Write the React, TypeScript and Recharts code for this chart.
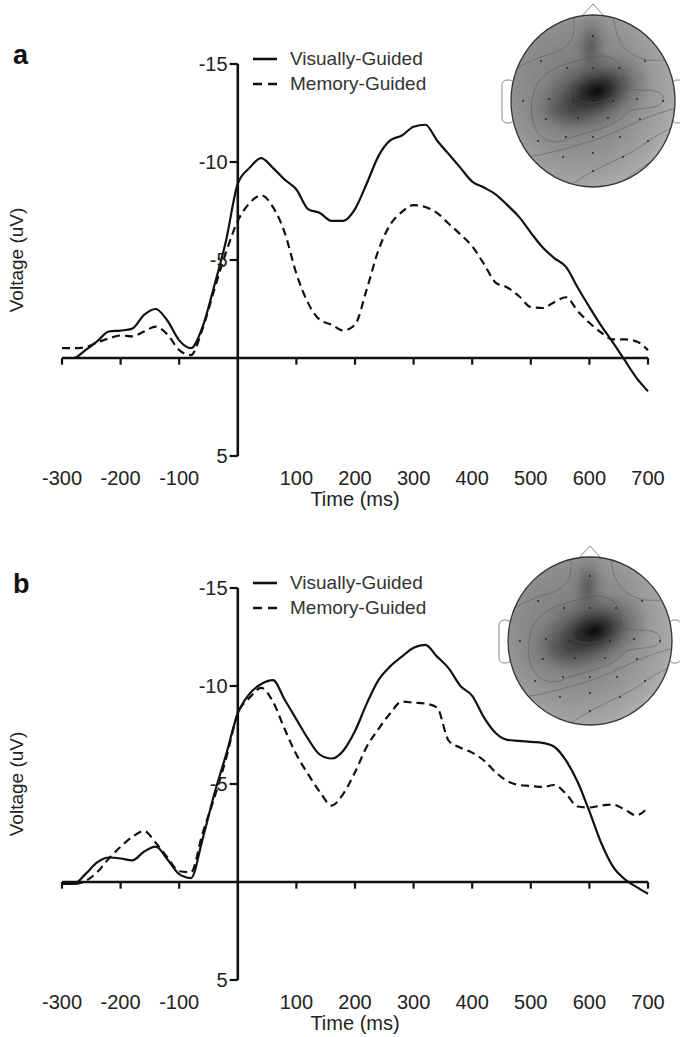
import React from "react";
import {
  LineChart,
  Line,
  XAxis,
  YAxis,
  ReferenceLine,
  Legend,
} from "recharts";

const FONT = '"Liberation Sans", Arial, Helvetica, sans-serif';

// time axis, ms (shared by both panels)
const TIME = [
  -300, -280, -260, -240, -220, -200, -180, -160, -140, -120, -100, -80, -60,
  -40, -20, 0, 20, 40, 60, 80, 100, 120, 140, 160, 180, 200, 220, 240, 260,
  280, 300, 320, 340, 360, 380, 400, 420, 440, 460, 480, 500, 520, 540, 560,
  580, 600, 620, 640, 660, 680, 700,
];

// panel a (uV)
const A_VISUAL = [
  0.0, 0.0, -0.4, -0.85, -1.35, -1.4, -1.5, -2.2, -2.5, -1.9, -0.9, -0.5, -1.6,
  -3.7, -6.0, -8.9, -9.7, -10.2, -9.7, -9.1, -8.6, -7.6, -7.4, -7.0, -7.0,
  -7.6, -8.9, -10.3, -11.1, -11.35, -11.8, -11.9, -11.1, -10.4, -9.7, -9.0,
  -8.7, -8.35, -7.8, -7.2, -6.4, -5.65, -5.1, -4.65, -3.6, -2.6, -1.65, -0.8,
  0.1, 1.0, 1.7,
];
const A_MEMORY = [
  -0.5, -0.5, -0.55, -0.8, -1.0, -1.15, -1.1, -1.35, -1.6, -1.2, -0.4, -0.15,
  -1.5, -3.5, -5.4, -7.0, -7.9, -8.3, -7.7, -6.4, -4.3, -2.8, -1.95, -1.7,
  -1.4, -1.7, -3.5, -5.5, -6.8, -7.45, -7.8, -7.7, -7.4, -6.85, -6.3, -5.7,
  -4.8, -3.85, -3.6, -3.15, -2.6, -2.55, -2.85, -3.1, -2.4, -1.8, -1.3, -0.95,
  -0.95, -0.85, -0.4,
];

// panel b (uV)
const B_VISUAL = [
  0.1, 0.1, -0.4, -1.0, -1.25, -1.2, -1.1, -1.55, -1.8, -1.15, -0.4, -0.2,
  -2.2, -4.5, -6.5, -8.6, -9.6, -10.1, -10.3, -9.3, -8.3, -7.3, -6.5, -6.3,
  -6.7, -7.7, -9.1, -10.3, -11.0, -11.5, -11.95, -12.1, -11.5, -10.9, -10.0,
  -9.5, -8.4, -7.6, -7.25, -7.2, -7.15, -7.1, -6.9, -6.2, -5.1, -3.6, -2.0,
  -0.8, -0.15, 0.25, 0.6,
];
const B_MEMORY = [
  0.0, 0.1, -0.05, -0.5, -1.2, -1.8, -2.3, -2.6, -2.0, -1.25, -0.55, -0.5,
  -2.5, -4.3, -6.3, -8.6, -9.4, -9.9, -9.2, -7.8, -6.5, -5.5, -4.6, -3.9,
  -4.5, -5.6, -6.9, -7.8, -8.6, -9.2, -9.15, -9.1, -8.9, -7.2, -6.85, -6.6,
  -6.2, -5.6, -5.15, -4.95, -4.9, -4.85, -4.95, -4.5, -3.85, -3.8, -3.9,
  -3.95, -3.7, -3.4, -3.8,
];

const X_LABEL_TICKS = [-300, -200, -100, 100, 200, 300, 400, 500, 600, 700];
const X_MARKS = [-300, -200, -100, 100, 200, 300, 400, 500, 600, 700];
const Y_TICKS = [-15, -10, -5, 5];
const LEGEND_ORDER = ["visual", "memory"];

// electrode positions on the head sketch (local units, radius ~83)
const ELECTRODES = [
  [0, -65], [-52, -40], [-26, -33], [0, -33], [26, -33], [52, -40],
  [-70, 0], [-44, -2], [-20, 0], [0, 0], [20, 0], [44, -2], [70, 0],
  [-47, 18], [-15, 17], [15, 17], [47, 18], [-55, 40], [-27, 36], [0, 36],
  [27, 36], [55, 40], [-30, 56], [0, 52], [30, 56], [0, 70],
];

const renderLegend = ({ payload }: any) => {
  const items = LEGEND_ORDER.map((k) =>
    (payload || []).find((p: any) => p.dataKey === k)
  ).filter(Boolean);
  return (
    <div style={{ fontFamily: FONT, fontSize: 19, color: "#333" }}>
      {items.map((entry: any) => (
        <div
          key={entry.value}
          style={{ display: "flex", alignItems: "center", height: 25 }}
        >
          <svg width={26} height={10} style={{ marginRight: 12 }}>
            <line
              x1={1}
              y1={5}
              x2={25}
              y2={5}
              stroke="#111"
              strokeWidth={2.6}
              strokeDasharray={entry.dataKey === "memory" ? "9 6" : undefined}
            />
          </svg>
          <span>{entry.value}</span>
        </div>
      ))}
    </div>
  );
};

function HeadMap({ id, cx, cy, rx, ry }: any) {
  return (
    <g transform={`translate(${cx},${cy})`}>
      <defs>
        <radialGradient id={`${id}-base`} cx="0.4" cy="0.42" r="0.72">
          <stop offset="0" stopColor="#767676" />
          <stop offset="0.5" stopColor="#8e8e8e" />
          <stop offset="0.82" stopColor="#a8a8a8" />
          <stop offset="1" stopColor="#cdcdcd" />
        </radialGradient>
        <radialGradient id={`${id}-blob`}>
          <stop offset="0" stopColor="#000" stopOpacity={0.92} />
          <stop offset="0.3" stopColor="#111" stopOpacity={0.65} />
          <stop offset="0.65" stopColor="#333" stopOpacity={0.25} />
          <stop offset="1" stopColor="#444" stopOpacity={0} />
        </radialGradient>
        <clipPath id={`${id}-clip`}>
          <ellipse cx={0} cy={0} rx={rx} ry={ry} />
        </clipPath>
      </defs>
      <path
        d={`M -13 ${-ry + 3} L 0 ${-ry - 11} L 13 ${-ry + 3}`}
        fill="#fff"
        stroke="#888"
        strokeWidth={1}
      />
      <rect x={-rx - 9} y={-21} width={12} height={43} rx={5} fill="#fff" stroke="#888" />
      <rect x={rx - 3} y={-21} width={12} height={43} rx={5} fill="#fff" stroke="#888" />
      <ellipse cx={0} cy={0} rx={rx} ry={ry} fill={`url(#${id}-base)`} />
      <g clipPath={`url(#${id}-clip)`}>
        <ellipse cx={-2} cy={-55} rx={20} ry={40} fill={`url(#${id}-blob)`} opacity={0.35} />
        <ellipse cx={-22} cy={8} rx={50} ry={32} fill={`url(#${id}-blob)`} opacity={0.4} />
        <ellipse
          cx={4}
          cy={-10}
          rx={58}
          ry={38}
          fill={`url(#${id}-blob)`}
          transform="rotate(-18 4 -10)"
        />
        <g fill="none" stroke="#555" strokeWidth={0.7} opacity={0.7}>
          <ellipse cx={5} cy={-12} rx={24} ry={13} transform="rotate(-15 5 -12)" />
          <path d="M -60 -5 C -55 -35 -20 -38 -2 -44 C 22 -50 34 -32 30 -16 C 40 -6 62 -16 70 -5 C 73 10 50 5 36 10 C 20 30 -10 30 -30 40 C -55 46 -66 20 -60 -5 Z" />
          <path d="M -20 -90 C -16 -62 -22 -52 -46 -46 C -66 -40 -76 -32 -90 -26" />
          <path d="M 20 -90 C 22 -62 30 -48 50 -42 C 66 -38 76 -46 90 -32" />
          <path d="M -75 58 C -40 52 -12 44 10 36 C 32 28 56 12 90 6" />
          <path d="M -30 90 C 0 66 30 58 50 44 C 66 32 76 28 90 22" />
          <path d="M 20 90 C 40 70 62 56 90 46" />
        </g>
        <g fill="#222">
          {ELECTRODES.map(([ex, ey], i) => (
            <circle key={i} cx={ex} cy={ey} r={0.9} />
          ))}
        </g>
      </g>
      <ellipse cx={0} cy={0} rx={rx} ry={ry} fill="none" stroke="#333" strokeWidth={1.3} />
    </g>
  );
}

function ErpPanel({ tag, tagY, visual, memory, head }: any) {
  const data = TIME.map((t, i) => ({ t, visual: visual[i], memory: memory[i] }));
  const axisText = { fontSize: 20, fill: "#222", fontFamily: FONT };

  return (
    <div style={{ position: "relative", width: 680, height: 524 }}>
      <LineChart
        width={680}
        height={520}
        data={data}
        margin={{ top: 64, right: 32, bottom: 34, left: 0 }}
      >
        <XAxis
          type="number"
          dataKey="t"
          domain={[-300, 700]}
          ticks={X_LABEL_TICKS}
          interval={0}
          axisLine={false}
          tickLine={false}
          tickMargin={9}
          tick={axisText}
          height={30}
          label={{ value: "Time (ms)", position: "bottom", offset: 6, ...axisText }}
        />
        <YAxis
          type="number"
          domain={[-15, 5]}
          reversed
          width={62}
          tick={false}
          axisLine={false}
          tickLine={false}
          label={{
            value: "Voltage (uV)",
            angle: -90,
            position: "insideLeft",
            offset: 16,
            ...axisText,
            fontSize: 19,
            style: { textAnchor: "middle" },
          }}
        />

        <ReferenceLine y={0} stroke="#111" strokeWidth={2.6} />
        <ReferenceLine x={0} stroke="#111" strokeWidth={2.6} />
        {X_MARKS.map((t) => (
          <ReferenceLine
            key={`xm${t}`}
            segment={[{ x: t, y: 0 }, { x: t, y: 0.34 }]}
            stroke="#111"
            strokeWidth={2.2}
          />
        ))}
        {Y_TICKS.map((v) => (
          <ReferenceLine
            key={`yt${v}`}
            segment={[{ x: -14, y: v }, { x: 0, y: v }]}
            stroke="#111"
            strokeWidth={2.2}
            label={{ value: String(v), position: "left", offset: 2, ...axisText }}
          />
        ))}

        <Line
          type="monotone"
          dataKey="visual"
          name="Visually-Guided"
          stroke="#111"
          strokeWidth={2.2}
          dot={false}
          isAnimationActive={false}
        />
        <Line
          type="monotone"
          dataKey="memory"
          name="Memory-Guided"
          stroke="#111"
          strokeWidth={2.2}
          strokeDasharray="8 5"
          dot={false}
          isAnimationActive={false}
        />
        <Legend
          layout="vertical"
          align="center"
          verticalAlign="middle"
          content={renderLegend}
          wrapperStyle={{ left: 252, top: 46, width: "auto", bottom: "auto" }}
        />
      </LineChart>

      <svg
        width={680}
        height={524}
        style={{ position: "absolute", left: 0, top: 0, pointerEvents: "none" }}
      >
        <text
          x={13}
          y={tagY}
          fontFamily={FONT}
          fontSize={27}
          fontWeight="bold"
          fill="#111"
        >
          {tag}
        </text>
        <HeadMap id={`head-${tag}`} {...head} />
      </svg>
    </div>
  );
}

export default function App() {
  return (
    <div
      style={{
        position: "absolute",
        left: 0,
        top: 0,
        width: 680,
        height: 1037,
        overflow: "hidden",
        background: "#fff",
      }}
    >
      <ErpPanel
        tag="a"
        tagY={64}
        visual={A_VISUAL}
        memory={A_MEMORY}
        head={{ cx: 593, cy: 101, rx: 82, ry: 86 }}
      />
      <ErpPanel
        tag="b"
        tagY={69}
        visual={B_VISUAL}
        memory={B_MEMORY}
        head={{ cx: 590, cy: 117, rx: 82, ry: 84 }}
      />
    </div>
  );
}
